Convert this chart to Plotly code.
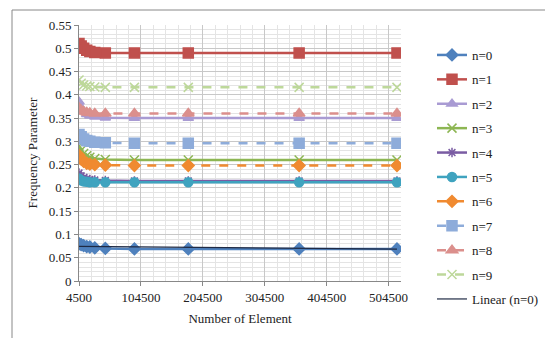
import plotly.graph_objects as go

elements = [4500, 8000, 12000, 17000, 22000, 30000, 47000, 94000, 181000, 360000, 518000]

n0 = [0.080, 0.078, 0.076, 0.074, 0.073, 0.071, 0.070, 0.069, 0.069, 0.069, 0.069]
n1 = [0.510, 0.505, 0.500, 0.496, 0.493, 0.491, 0.490, 0.490, 0.490, 0.490, 0.490]
n2 = [0.385, 0.372, 0.364, 0.358, 0.355, 0.353, 0.351, 0.350, 0.350, 0.350, 0.350]
n3 = [0.290, 0.281, 0.274, 0.269, 0.266, 0.263, 0.261, 0.260, 0.260, 0.260, 0.260]
n4 = [0.232, 0.226, 0.222, 0.220, 0.218, 0.217, 0.216, 0.215, 0.215, 0.215, 0.215]
n5 = [0.220, 0.216, 0.214, 0.213, 0.212, 0.212, 0.212, 0.212, 0.212, 0.212, 0.212]
n6 = [0.270, 0.262, 0.257, 0.253, 0.251, 0.250, 0.249, 0.248, 0.248, 0.248, 0.248]
n7 = [0.315, 0.310, 0.305, 0.302, 0.300, 0.298, 0.297, 0.296, 0.296, 0.296, 0.296]
n8 = [0.372, 0.367, 0.364, 0.362, 0.361, 0.360, 0.360, 0.360, 0.360, 0.360, 0.360]
n9 = [0.432, 0.425, 0.421, 0.419, 0.418, 0.417, 0.416, 0.416, 0.416, 0.416, 0.416]

linear_x = [4500, 518000]
linear_y = [0.0745, 0.0685]

series_names = ["n=0", "n=1", "n=2", "n=3", "n=4", "n=5", "n=6", "n=7", "n=8", "n=9"]
series_values = [n0, n1, n2, n3, n4, n5, n6, n7, n8, n9]
colors = ["#4F81BD", "#C0504D", "#A99BD3", "#8DB653", "#7A5CA3",
          "#3FA3BF", "#F08A30", "#8EACDA", "#DB8F8C", "#BDD89A"]
symbols = ["diamond", "square", "triangle-up", "x-thin-open", "asterisk-open",
           "circle", "diamond", "square", "triangle-up", "x-thin-open"]
sizes = [9, 10, 9, 9, 8, 9, 9, 10, 10, 9]
dashes = ["solid"] * 6 + ["dash"] * 4

fig = go.Figure()
for name, vals, c, s, sz, d in zip(series_names, series_values, colors, symbols, sizes, dashes):
    fig.add_trace(go.Scatter(
        x=elements, y=vals, name=name, legendgroup=name, mode="lines+markers",
        line=dict(color=c, width=2.5, dash=d),
        marker=dict(symbol=s, size=sz, color=c, line=dict(color=c, width=1.5)),
    ))

fig.add_trace(go.Scatter(
    x=linear_x, y=linear_y, name="Linear (n=0)", legendgroup="lin", mode="lines",
    line=dict(color="#1F2A44", width=1.2),
))

font = "Liberation Serif, Times New Roman, serif"

fig.update_layout(
    width=545, height=338,
    margin=dict(l=79, r=144, t=25, b=57),
    paper_bgcolor="white", plot_bgcolor="white",
    font=dict(family=font, size=13, color="#222"),
    showlegend=True,
    legend=dict(xref="container", yref="container",
                x=432 / 545, y=1 - 40 / 338, xanchor="left", yanchor="top",
                traceorder="grouped", tracegroupgap=4.5, maxheight=330,
                font=dict(family=font, size=13, color="#222"),
                bgcolor="rgba(0,0,0,0)", itemwidth=30),
    xaxis=dict(
        range=[4500, 524500], tick0=4500, dtick=100000, tickformat="d",
        showgrid=True, gridcolor="#C8C8C8", gridwidth=1,
        minor=dict(dtick=20000, tick0=4500, showgrid=True, gridcolor="#E4E4E4", gridwidth=1),
        showline=True, linecolor="#888", linewidth=1,
        ticks="outside", ticklen=4, tickcolor="#888",
        zeroline=False,
        title=dict(text="Number of Element", font=dict(family=font, size=13), standoff=10),
        tickfont=dict(family=font, size=13),
    ),
    yaxis=dict(
        range=[0, 0.55], dtick=0.05, tick0=0,
        showgrid=True, gridcolor="#C8C8C8", gridwidth=1,
        minor=dict(dtick=0.01, showgrid=True, gridcolor="#E4E4E4", gridwidth=1),
        showline=True, linecolor="#888", linewidth=1,
        ticks="outside", ticklen=4, tickcolor="#888",
        zeroline=False,
        title=dict(text="Frequency Parameter", font=dict(family=font, size=13), standoff=8),
        tickfont=dict(family=font, size=13),
    ),
    shapes=[
        dict(type="line", xref="paper", yref="paper",
             x0=(12 - 79) / 322, x1=(545 - 79) / 322, y0=(281 - 10) / 256, y1=(281 - 10) / 256,
             line=dict(color="#888", width=1)),
        dict(type="line", xref="paper", yref="paper",
             x0=(12 - 79) / 322, x1=(12 - 79) / 322, y0=(281 - 10) / 256, y1=(281 - 340) / 256,
             line=dict(color="#888", width=1)),
    ],
)

fig.write_html("out.html")
